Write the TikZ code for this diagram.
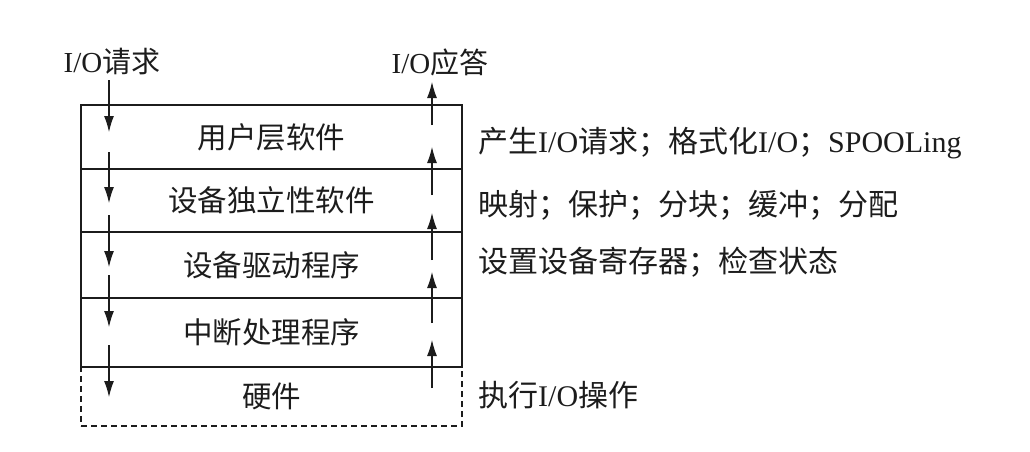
\documentclass[tikz,border=0pt]{standalone}
\usepackage{fontspec}
\setmainfont{Liberation Serif}
\newfontfamily\cjk{Noto Sans CJK SC}
\usetikzlibrary{arrows.meta,positioning}
\definecolor{Ink}{HTML}{1C1C1C}
\tikzset{
  layer/.style={draw=Ink, line width=1.1pt, minimum width=381pt, inner sep=0pt, text=Ink, font=\cjk\fontsize{29.5}{31}\selectfont},
  hwlayer/.style={layer, dash pattern=on 6pt off 4pt},
  note/.style={anchor=west, inner sep=0pt, text=Ink, font=\fontsize{30}{32}\selectfont},
  toplabel/.style={inner sep=0pt, text=Ink, font=\fontsize{29}{31}\selectfont},
  arr/.style={-{Latex[length=16pt,width=10pt]}, line width=1.1pt, draw=Ink}
}
\begin{document}
\begin{tikzpicture}[x=1pt,y=-1pt]
\useasboundingbox (0,0) rectangle (1030,452);
% hardware layer first, so the solid line above covers its dashes
\node[hwlayer,minimum height=59pt] (hw) at (271.5,396.5) {硬件};
\foreach \n/\yc/\h/\txt in {user/137/64/用户层软件,indep/200.5/63/设备独立性软件,drv/265/66/设备驱动程序,intr/332.5/69/中断处理程序}{
  \node[layer,minimum height=\h pt] (\n) at (271.5,\yc) {\txt};
}
\node[toplabel] (req) at (112,62) {I/O{\cjk 请求}};
\node[toplabel] (ans) at (440,62) {I/O{\cjk 应答}};
% downward request arrows
\foreach \i/\a/\b in {1/80/132,2/152/203,3/215/267,4/275/327,5/345/397}{
  \coordinate (d\i s) at (109,\a);
  \coordinate (d\i e) at (109,\b);
  \draw[arr] (d\i s) -- (d\i e);
}
% upward reply arrows
\foreach \i/\a/\b in {1/388/340,2/323/272,3/260/213,4/195/147,5/125/82}{
  \coordinate (u\i s) at (432,\a);
  \coordinate (u\i e) at (432,\b);
  \draw[arr] (u\i s) -- (u\i e);
}
\node[note] (n1) at (478,143) {{\cjk 产生}I/O{\cjk 请求；格式化}I/O{\cjk ；}SPOOLing};
\node[note] (n2) at (478,205) {\cjk 映射；保护；分块；缓冲；分配};
\node[note] (n3) at (478,262) {\cjk 设置设备寄存器；检查状态};
\node[note] (n5) at (478,395) {{\cjk 执行}I/O{\cjk 操作}};
\end{tikzpicture}
\end{document}
